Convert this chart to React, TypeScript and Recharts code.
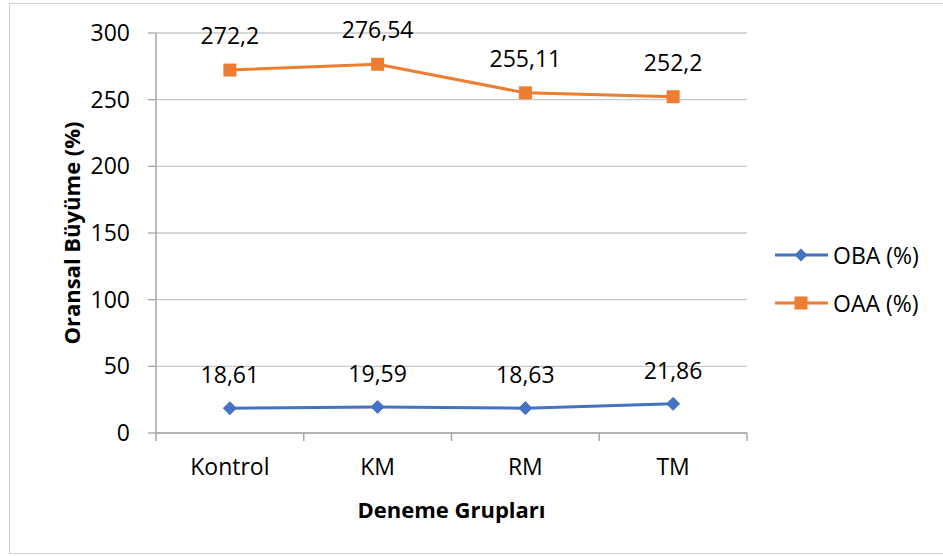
import React from "react";
import { LineChart, Line, XAxis, YAxis, CartesianGrid, LabelList } from "recharts";

const categories = ["Kontrol", "KM", "RM", "TM"];
const obaValues = [18.61, 19.59, 18.63, 21.86];
const oaaValues = [272.2, 276.54, 255.11, 252.2];
const yTicks = [0, 50, 100, 150, 200, 250, 300];
const seriesNames = ["OBA (%)", "OAA (%)"];
const xTitle = "Deneme Grupları";
const yTitle = "Oransal Büyüme (%)";

const data = categories.map((c, i) => ({ name: c, oba: obaValues[i], oaa: oaaValues[i] }));

const BLUE = "#4472C4";
const ORANGE = "#ED7D31";
const FONT = "'Open Sans', Lato, sans-serif";
const AXIS = "#A6A6A6";
const GRID = "#C9C9C9";
const FS = 23;
const TFS = 22;

const W = 943;
const H = 556;
const M = { top: 33, right: 196, left: 0, bottom: 93 };
const Y_W = 156;
const X_H = 30;
const HALF_BAND = (W - M.right - Y_W) / categories.length / 2;

const fmt = (v: any) => String(v).replace(".", ",");

const Diamond = (props: any) => {
  const { cx, cy } = props;
  if (cx == null || cy == null) return null;
  const r = 6.5;
  return (
    <polygon
      points={`${cx},${cy - r} ${cx + r},${cy} ${cx},${cy + r} ${cx - r},${cy}`}
      fill={BLUE}
      stroke={BLUE}
      strokeWidth={1}
    />
  );
};

const Square = (props: any) => {
  const { cx, cy } = props;
  if (cx == null || cy == null) return null;
  const s = 13;
  return <rect x={cx - s / 2} y={cy - s / 2} width={s} height={s} fill={ORANGE} />;
};

const XTick = (props: any) => {
  const { x, y, payload, index } = props;
  const last = index === categories.length - 1;
  return (
    <g>
      <line x1={x - HALF_BAND} y1={y} x2={x - HALF_BAND} y2={y + 8} stroke={AXIS} strokeWidth={1.5} />
      {last && <line x1={x + HALF_BAND} y1={y} x2={x + HALF_BAND} y2={y + 8} stroke={AXIS} strokeWidth={1.5} />}
      <text x={x} y={y + 42} textAnchor="middle" fill="#000" fontSize={FS} fontFamily={FONT}>
        {payload.value}
      </text>
    </g>
  );
};

const LegendBox = () => {
  const items = [
    { name: seriesNames[0], color: BLUE, kind: "diamond" },
    { name: seriesNames[1], color: ORANGE, kind: "square" },
  ];
  return (
    <svg width={173} height={100} style={{ position: "absolute", left: 770, top: 240 }}>
      {items.map((it, i) => {
        const cy = 15 + i * 48;
        return (
          <g key={it.name}>
            <line x1={5} y1={cy} x2={58} y2={cy} stroke={it.color} strokeWidth={3} />
            {it.kind === "diamond" ? (
              <polygon points={`31,${cy - 6.5} 37.5,${cy} 31,${cy + 6.5} 24.5,${cy}`} fill={it.color} />
            ) : (
              <rect x={24.5} y={cy - 6.5} width={13} height={13} fill={it.color} />
            )}
            <text x={63} y={cy} dominantBaseline="central" fontSize={FS} fontFamily={FONT} fill="#000">
              {it.name}
            </text>
          </g>
        );
      })}
    </svg>
  );
};

export default function App() {
  return (
    <div style={{ position: "absolute", left: 0, top: 0, width: W, height: H, background: "#fff", overflow: "hidden" }}>
      <div
        style={{
          position: "absolute",
          left: 9,
          top: 3,
          width: 945,
          height: 551,
          border: "1px solid #D0D0D0",
          boxSizing: "border-box",
        }}
      />
      <LineChart width={W} height={H} data={data} margin={M} style={{ fontFamily: FONT }}>
        <CartesianGrid vertical={false} stroke={GRID} strokeWidth={1.3} />
        <XAxis
          dataKey="name"
          scale="band"
          height={X_H}
          tickLine={false}
          tickSize={0}
          tickMargin={0}
          axisLine={{ stroke: AXIS, strokeWidth: 1.5 }}
          tick={<XTick />}
          interval={0}
          label={(p: any) => {
            const vb = p.viewBox;
            return (
              <text
                x={vb.x + vb.width / 2}
                y={vb.y + 76}
                textAnchor="middle"
                dominantBaseline="central"
                fontSize={TFS}
                fontWeight="bold"
                fontFamily={FONT}
                fill="#000"
              >
                {xTitle}
              </text>
            );
          }}
        />
        <YAxis
          width={Y_W}
          domain={[0, 300]}
          ticks={yTicks}
          tickSize={8}
          tickMargin={18}
          tickLine={{ stroke: AXIS, strokeWidth: 1.3 }}
          axisLine={{ stroke: AXIS, strokeWidth: 1.5 }}
          tick={{ fill: "#000", fontSize: FS, fontFamily: FONT }}
          label={(p: any) => {
            const vb = p.viewBox;
            const cx = vb.x + 71;
            const cy = vb.y + vb.height / 2;
            return (
              <text
                x={cx}
                y={cy}
                transform={`rotate(-90 ${cx} ${cy})`}
                textAnchor="middle"
                dominantBaseline="central"
                fontSize={TFS}
                fontWeight="bold"
                fontFamily={FONT}
                fill="#000"
              >
                {yTitle}
              </text>
            );
          }}
        />
        <Line
          type="linear"
          dataKey="oba"
          name={seriesNames[0]}
          stroke={BLUE}
          strokeWidth={3}
          dot={<Diamond />}
          activeDot={false}
          isAnimationActive={false}
        >
          <LabelList dataKey="oba" position="top" offset={25} formatter={fmt} fill="#000" fontSize={FS} fontFamily={FONT} />
        </Line>
        <Line
          type="linear"
          dataKey="oaa"
          name={seriesNames[1]}
          stroke={ORANGE}
          strokeWidth={3}
          dot={<Square />}
          activeDot={false}
          isAnimationActive={false}
        >
          <LabelList dataKey="oaa" position="top" offset={26} formatter={fmt} fill="#000" fontSize={FS} fontFamily={FONT} />
        </Line>
      </LineChart>
      <LegendBox />
    </div>
  );
}
